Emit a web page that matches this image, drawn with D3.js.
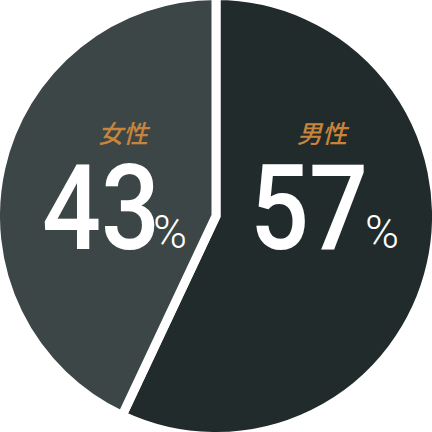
<!DOCTYPE html>
<html lang="ja">
<head>
  <meta charset="UTF-8">
  <title>男女比</title>
  <script src="https://d3js.org/d3.v7.min.js"></script>
  <style>
    html, body { margin: 0; padding: 0; background: #fff; }
  </style>
</head>
<body>
  <div id="chart"></div>
  <script>
    // data
    var labels = ["男性", "女性"];
    var values = [57, 43];
    var colors = ["#222b2c", "#3c4647"];

    var width = 432, height = 432,
      radius = 216;

    var svg = d3.select("#chart")
      .append("svg")
      .attr("width", width)
      .attr("height", height);

    var g = svg.append("g")
      .attr("transform", "translate(" + width / 2 + "," + height / 2 + ")");

    var pie = d3.pie().sort(null).value(function (d) { return d; });
    var gap = 9;
    var arc = d3.arc().innerRadius(0).outerRadius(radius + gap / 2);

    g.selectAll("path")
      .data(pie(values))
      .enter()
      .append("path")
      .attr("d", arc)
      .attr("fill", function (d, i) { return colors[i]; })
      .attr("stroke", "#fff")
      .attr("stroke-width", gap)
      .attr("stroke-linejoin", "miter");

    // label layout (per slice: label centre, number right edge, percent start)
    var labelPos = [
      { lx: 322, num: 368, pct: 365 },
      { lx: 123, num: 160, pct: 153 }
    ];

    labels.forEach(function (name, i) {
      var p = labelPos[i];
      svg.append("text")
        .attr("x", p.lx)
        .attr("y", 143)
        .attr("text-anchor", "middle")
        .attr("fill", "#c8843a")
        .style("font-family", "'Noto Sans CJK JP', sans-serif")
        .style("font-size", "25px")
        .style("font-style", "italic")
        .style("font-weight", 500)
        .text(name);

      svg.append("text")
        .attr("transform", "translate(" + p.num + ",249) scale(0.88,1)")
        .attr("text-anchor", "end")
        .attr("fill", "#fff")
        .style("font-family", "Roboto, sans-serif")
        .style("font-size", "118px")
        .style("font-weight", 500)
        .text(values[i]);

      svg.append("text")
        .attr("x", p.pct)
        .attr("y", 248)
        .attr("fill", "#fff")
        .style("font-family", "Roboto, sans-serif")
        .style("font-size", "46px")
        .style("font-weight", 300)
        .text("%");
    });
  </script>
</body>
</html>
